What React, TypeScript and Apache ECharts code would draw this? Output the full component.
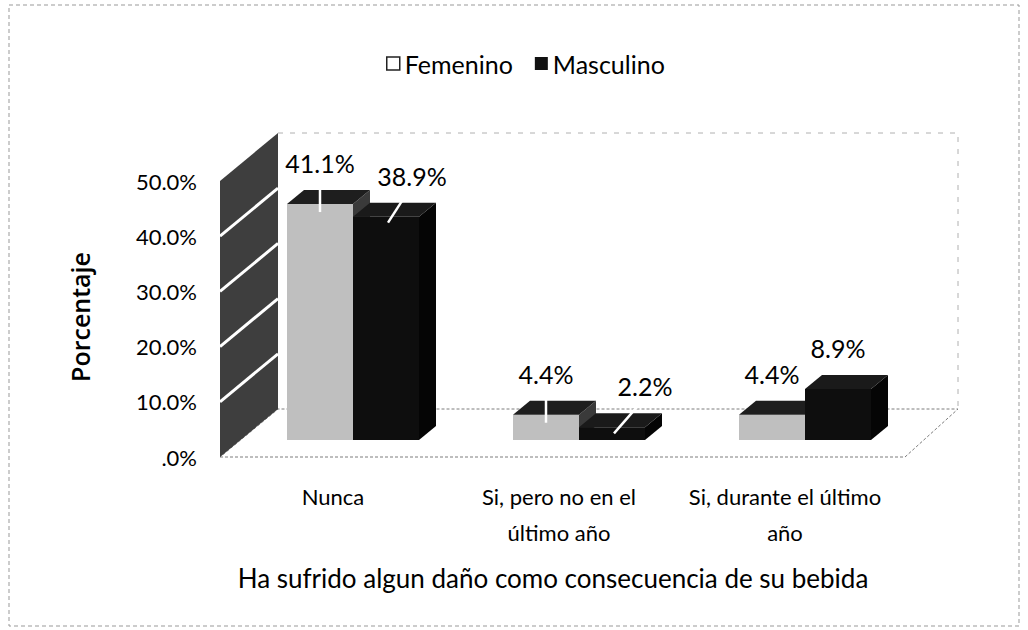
import React, { useEffect, useRef } from 'react';
import * as echarts from 'echarts';

// ---- data ----
const categories = ['Nunca', 'Si, pero no en el\núltimo año', 'Si, durante el último\naño'];
const femenino = [41.1, 4.4, 4.4];
const masculino = [38.9, 2.2, 8.9];
const yTicks = [0, 10, 20, 30, 40, 50];
const seriesNames = ['Femenino', 'Masculino'];
const xTitle = 'Ha sufrido algun daño como consecuencia de su bebida';
const yTitle = 'Porcentaje';

// ---- styling / layout ----
const FONT = 'Lato, "Open Sans", sans-serif';
const GRID = { left: 220, right: 130, top: 181, bottom: 173 };
const WALL_DX = 58;
const WALL_DY = -48;
const SHIFT_X = 20;
const SHIFT_Y = -17;
const BAR_W = 66;
const BAR_SCALE = 1.04;
const DEPTH_X = 17;
const DEPTH_Y = -14;
// label placement tweaks (per series, per category) and leader-line flags
const LABEL_NUDGE_X = [[0, 0, 0], [26, 33, 0]];
const LEADER = [[true, true, false], [true, true, false]];

const fmtPct = (v: number) => (v === 0 ? '.0%' : v.toFixed(1) + '%');

const barColors = [
  { front: '#bfbfbf', top: '#1e1e1e', side: '#3a3a3a' },
  { front: '#0e0e0e', top: '#1a1a1a', side: '#050505' },
];

function makeBarRender(side: number) {
  const c = barColors[side];
  return (params: any, api: any) => {
    const cat = api.value(0);
    const v = api.value(1);
    const b = api.coord([cat, 0]);
    const t = api.coord([cat, v]);
    const x1 = b[0] + SHIFT_X + (side === 0 ? -BAR_W : 0);
    const x2 = x1 + BAR_W;
    const yb = b[1] + SHIFT_Y;
    const yt = yb - (b[1] - t[1]) * BAR_SCALE;
    const nudge = LABEL_NUDGE_X[side][params.dataIndex] || 0;
    const lx = (x1 + x2) / 2 + nudge;
    const ly = yt + DEPTH_Y - 27;
    const children: any[] = [
      {
        type: 'polygon',
        shape: { points: [[x2, yt], [x2 + DEPTH_X, yt + DEPTH_Y], [x2 + DEPTH_X, yb + DEPTH_Y], [x2, yb]] },
        style: { fill: c.side },
      },
      {
        type: 'rect',
        shape: { x: x1, y: yt, width: BAR_W, height: yb - yt },
        style: { fill: c.front },
      },
      {
        type: 'polygon',
        shape: { points: [[x1, yt], [x2, yt], [x2 + DEPTH_X, yt + DEPTH_Y], [x1 + DEPTH_X, yt + DEPTH_Y]] },
        style: { fill: c.top },
      },
    ];
    if (LEADER[side][params.dataIndex]) {
      const cx = (x1 + x2) / 2;
      children.push({
        type: 'line',
        shape: nudge
          ? { x1: lx - 4, y1: ly + 16, x2: cx + 2, y2: yt + 6 }
          : { x1: cx, y1: ly + 16, x2: cx, y2: yt + 8 },
        style: { stroke: '#ffffff', lineWidth: 2.5 },
      });
    }
    children.push({
      type: 'text',
      x: lx,
      y: ly,
      style: {
        text: fmtPct(v),
        textAlign: 'center',
        textVerticalAlign: 'middle',
        fontSize: 25,
        fontFamily: FONT,
        fill: '#000',
      },
    });
    return { type: 'group', children };
  };
}

function decoRender(params: any, api: any) {
  const cs = params.coordSys;
  const L = cs.x;
  const R = cs.x + cs.width + 7;
  const y0 = api.coord([0, 0])[1];
  const y50 = api.coord([0, 50])[1];
  const children: any[] = [];
  children.push({
    type: 'polygon',
    shape: { points: [[L, y0], [R, y0], [R + WALL_DX - 5, y0 + WALL_DY], [L + WALL_DX, y0 + WALL_DY]] },
    style: { fill: '#fff', stroke: '#7c7c7c', lineWidth: 1, lineDash: [3, 2] },
  });
  children.push({
    type: 'polyline',
    shape: { points: [[L + WALL_DX, y50 + WALL_DY], [R + WALL_DX - 5, y50 + WALL_DY], [R + WALL_DX - 5, y0 + WALL_DY]] },
    style: { fill: 'none', stroke: '#b0b0b0', lineWidth: 1, lineDash: [5, 7] },
  });
  children.push({
    type: 'polygon',
    shape: { points: [[L, y0], [L, y50], [L + WALL_DX, y50 + WALL_DY], [L + WALL_DX, y0 + WALL_DY]] },
    style: { fill: '#3e3e3e' },
  });
  yTicks.forEach((tk) => {
    if (tk > 0 && tk < 50) {
      const y = api.coord([0, tk])[1];
      children.push({
        type: 'line',
        shape: { x1: L, y1: y, x2: L + WALL_DX, y2: y + WALL_DY },
        style: { stroke: '#ffffff', lineWidth: 3 },
      });
    }
  });
  return { type: 'group', children };
}

export default function App() {
  const ref = useRef<HTMLDivElement>(null);
  useEffect(() => {
    if (!ref.current) return;
    const chart = echarts.init(ref.current, undefined, { renderer: 'svg' });
    const gridCenter = GRID.left + (1028 - GRID.left - GRID.right) / 2;
    chart.setOption({
      animation: false,
      backgroundColor: '#ffffff',
      grid: GRID,
      legend: {
        top: 46,
        left: 381,
        itemWidth: 13,
        itemHeight: 13,
        itemGap: 22,
        textStyle: { fontSize: 25, fontFamily: FONT, color: '#000' },
        data: [
          { name: seriesNames[0], icon: 'rect', itemStyle: { color: '#ffffff', borderColor: '#222', borderWidth: 1.5 } },
          { name: seriesNames[1], icon: 'rect', itemStyle: { color: '#111111' } },
        ],
      },
      xAxis: {
        type: 'category',
        data: categories,
        axisLine: { show: false },
        axisTick: { show: false },
        axisLabel: {
          interval: 0,
          margin: 21,
          fontSize: 22,
          lineHeight: 36,
          fontFamily: FONT,
          color: '#000',
        },
      },
      yAxis: {
        type: 'value',
        min: 0,
        max: 50,
        interval: 10,
        axisLine: { show: false },
        axisTick: { show: false },
        splitLine: { show: false },
        axisLabel: {
          margin: 23,
          fontSize: 22,
          fontFamily: FONT,
          color: '#000',
          formatter: (v: number) => fmtPct(v),
        },
      },
      graphic: [
        {
          type: 'rect',
          silent: true,
          shape: { x: 9, y: 5, width: 1010, height: 621 },
          style: { fill: 'none', stroke: '#999', lineWidth: 1, lineDash: [4, 3] },
        },
        {
          type: 'text',
          x: gridCenter - 6,
          y: 578,
          style: {
            text: xTitle,
            textAlign: 'center',
            textVerticalAlign: 'middle',
            fontSize: 26,
            fontFamily: FONT,
            fill: '#000',
          },
        },
        {
          type: 'text',
          x: 80,
          y: 317,
          rotation: Math.PI / 2,
          style: {
            text: yTitle,
            textAlign: 'center',
            textVerticalAlign: 'middle',
            fontSize: 25,
            fontWeight: 600,
            fontFamily: '"Open Sans", Lato, sans-serif',
            fill: '#000',
          },
        },
      ],
      series: [
        {
          type: 'custom',
          name: '__deco',
          silent: true,
          z: 1,
          renderItem: decoRender,
          data: [[0, 0]],
          encode: { x: 0, y: 1 },
        },
        {
          type: 'custom',
          name: seriesNames[0],
          z: 2,
          itemStyle: { color: '#bfbfbf' },
          renderItem: makeBarRender(0),
          data: femenino.map((v, i) => [i, v]),
          encode: { x: 0, y: 1 },
        },
        {
          type: 'custom',
          name: seriesNames[1],
          z: 3,
          itemStyle: { color: '#111' },
          renderItem: makeBarRender(1),
          data: masculino.map((v, i) => [i, v]),
          encode: { x: 0, y: 1 },
        },
      ],
    });
    return () => chart.dispose();
  }, []);
  return (
    <div
      ref={ref}
      style={{ position: 'fixed', left: 0, top: 0, width: 1028, height: 630, background: '#fff' }}
    />
  );
}
